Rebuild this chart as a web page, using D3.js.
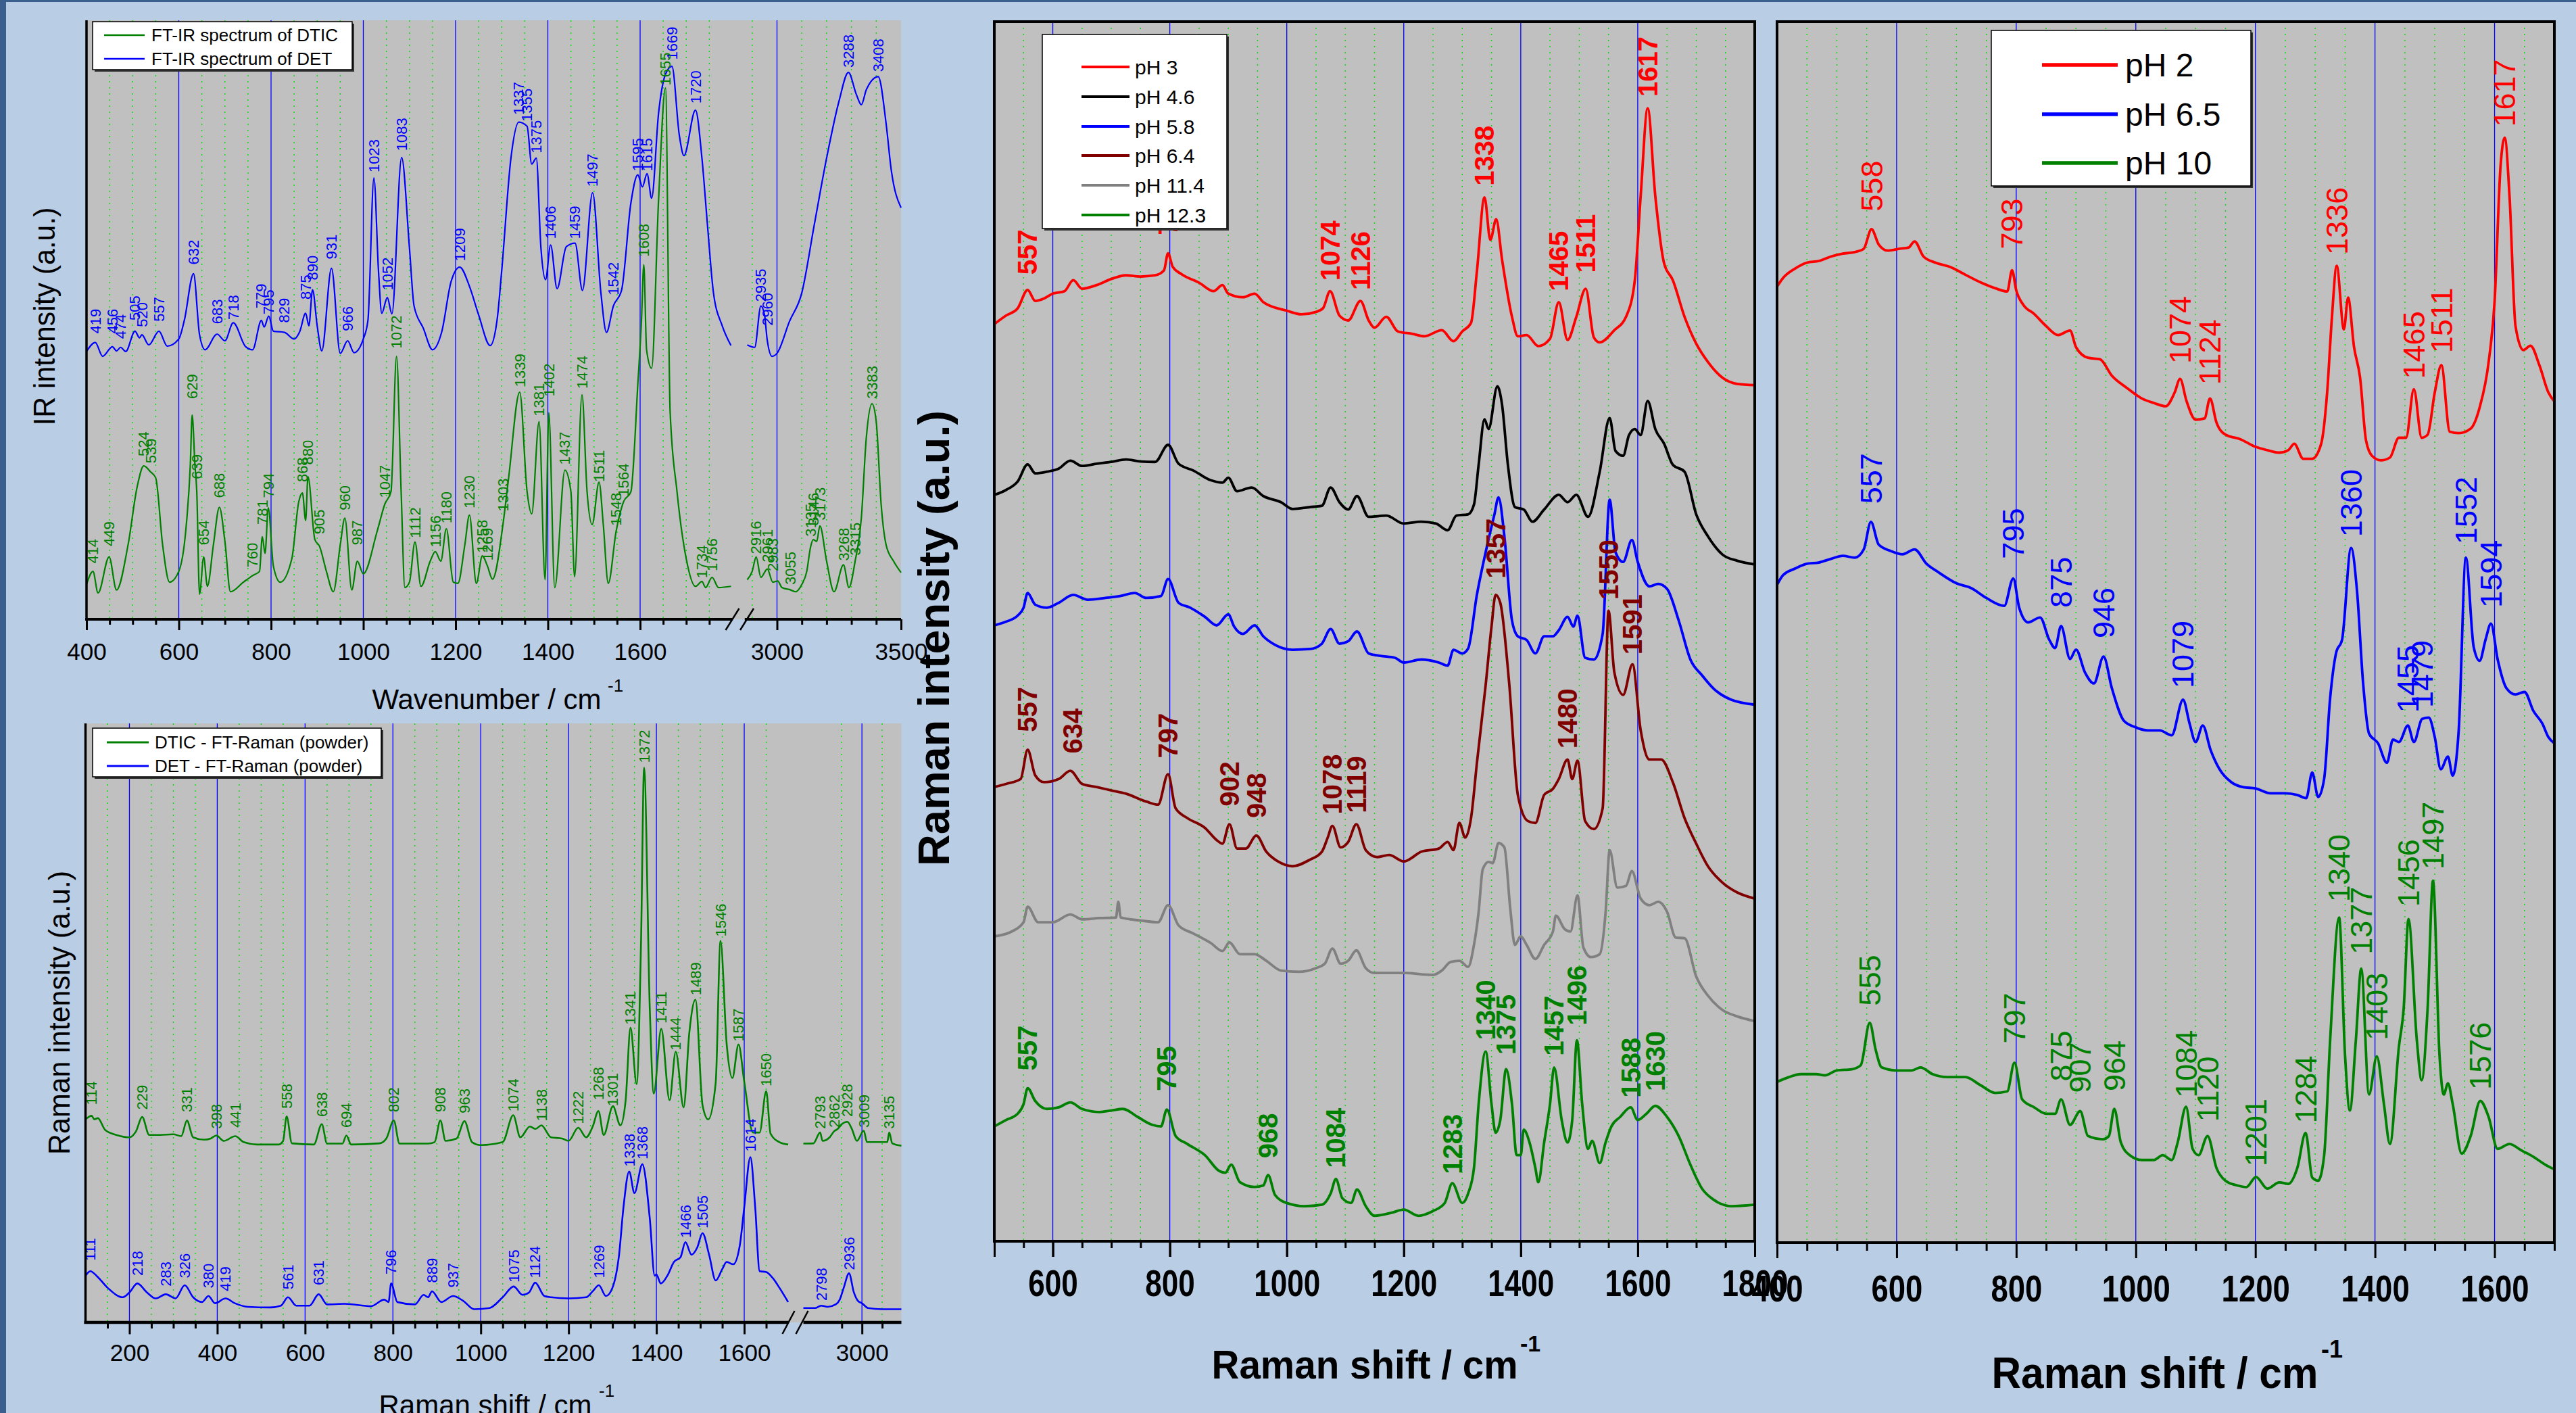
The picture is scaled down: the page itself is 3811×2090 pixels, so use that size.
<!DOCTYPE html>
<html>
<head>
<meta charset="utf-8">
<script src="https://cdn.jsdelivr.net/npm/d3@7"></script>
<style>
  body { margin: 0; background: #b9cde5; }
  svg { display: block; }
</style>
</head>
<body>
<script>
// ---------- data (wavenumber, relative intensity 0-100 of each panel) ----------

// FT-IR
const irDet = [[400,44.7],[419,46.2],[435,43.9],[456,45.5],[465,44.8],[474,45.4],[485,44.7],[505,48.1],[515,47],[520,47.5],[535,45.8],[557,48.1],[575,45.6],[600,46.8],[612,49.9],[632,57.7],[645,47.5],[657,45],[683,47.6],[700,46.5],[718,49.5],[745,45.5],[760,45],[779,49.9],[785,48.8],[795,50.6],[805,48.1],[829,47.9],[850,46.8],[862,48],[875,51.1],[882,49],[890,55],[900,49],[910,44.8],[931,58.6],[950,44.4],[966,46.5],[980,44.5],[1000,46.8],[1010,49.9],[1023,73.7],[1033,58],[1040,51.1],[1052,53.7],[1062,51],[1083,77.1],[1100,62],[1110,52.3],[1130,48.6],[1150,45],[1170,48],[1190,56.3],[1209,58.8],[1230,55.6],[1250,50.8],[1275,45.7],[1290,50],[1300,58.2],[1320,77],[1337,83],[1355,82.3],[1365,76],[1375,77],[1385,62],[1395,56.7],[1406,62.5],[1420,55.2],[1440,62.2],[1459,62.8],[1475,54.9],[1497,71.2],[1515,54.5],[1527,47.9],[1542,52.3],[1560,55],[1580,69.5],[1595,74.2],[1605,72.2],[1615,74.4],[1625,70.3],[1640,84.5],[1655,91],[1669,92.3],[1685,80.8],[1695,77.4],[1720,85],[1734,77],[1746,65.8],[1759,54.5],[1778,49],[1797,45.7],
  [2880,45.8],[2910,45.4],[2935,52.3],[2950,50.8],[2960,46.8],[2980,43.9],[3000,44.4],[3050,49.7],[3100,54.5],[3150,65.8],[3200,77],[3250,86.5],[3288,91.3],[3320,87.6],[3340,85.9],[3360,88.4],[3408,90.6],[3440,82.7],[3460,75.2],[3500,68.7]];
const irDtic = [[400,5.8],[414,8],[425,4.4],[449,10.4],[465,4.9],[490,12.4],[510,22.2],[524,25.6],[539,24.6],[550,23.6],[565,12.4],[580,6.2],[600,8],[615,14.7],[625,25.8],[629,34.1],[635,25.8],[639,21.3],[645,4.2],[654,10.4],[662,5.5],[675,12.4],[688,18.7],[700,13],[712,4.6],[740,6.2],[760,7.3],[775,8],[781,13.8],[787,11],[794,18.6],[805,8.9],[820,6.2],[845,10.1],[860,19.6],[868,21.1],[875,16.5],[880,23.8],[895,13.3],[905,12.2],[920,8],[935,4.6],[950,12.4],[960,16.9],[975,4.9],[987,9.7],[1000,7.6],[1030,14.7],[1047,19.3],[1060,21.3],[1072,43.9],[1082,21.3],[1090,5.3],[1100,6.2],[1112,12.9],[1125,5.5],[1145,9.7],[1156,11.3],[1168,9.7],[1180,15.1],[1195,6.2],[1205,6],[1220,12.4],[1230,17.4],[1245,6],[1258,10.6],[1269,8.9],[1280,6.7],[1303,16],[1315,23.6],[1339,37.9],[1355,21.3],[1365,17.6],[1381,33],[1394,6.6],[1402,34.5],[1415,5.3],[1437,24.9],[1450,21.3],[1458,7.1],[1474,37.5],[1485,21.3],[1496,15.8],[1511,22.9],[1520,16],[1531,6],[1548,14.7],[1564,19.6],[1580,21.3],[1595,39.2],[1603,50],[1608,59.2],[1614,45],[1625,41.9],[1640,70],[1655,88.7],[1665,34.8],[1680,21.3],[1700,10.1],[1720,5.5],[1734,6.3],[1742,5.3],[1756,7],[1770,5.3],[1797,5.5],
  [2880,6.6],[2900,8],[2916,10.4],[2935,7],[2961,8.4],[2983,6.2],[3003,6.4],[3020,5.3],[3055,4.9],[3075,4.6],[3100,5.8],[3120,8],[3135,12],[3146,13.3],[3160,13],[3173,15.6],[3200,9.7],[3230,4.6],[3268,9.1],[3290,5.3],[3315,9.7],[3340,16.9],[3360,30.3],[3383,36],[3400,33],[3420,19.1],[3440,12.4],[3470,9.7],[3500,7.8]];
const irDetPeaks = [[419,47.7],[456,47.7],[474,46.8],[505,49.9],[520,48.8],[557,49.7],[632,59.2],[683,49.3],[718,50],[779,51.9],[795,50.9],[829,49.5],[875,53.4],[890,56.6],[931,60.1],[966,48.1],[1023,74.6],[1052,54.9],[1083,78.2],[1209,59.8],[1337,84.2],[1355,83.1],[1375,77.8],[1406,63.5],[1459,63.5],[1497,72.2],[1542,54.1],[1595,74.8],[1615,74.8],[1669,93.4],[1720,86.1],[2935,53],[2960,49],[3288,92.1],[3408,91.4]];
const irDticPeaks = [[414,9.3],[449,12.2],[524,27.2],[539,26.05],[629,36.8],[639,23.4],[654,12.4],[688,20.25],[760,8.65],[781,15.8],[794,20.25],[868,22.9],[880,25.8],[905,14.2],[960,18.2],[987,12.4],[1047,20.25],[1072,45.2],[1112,13.55],[1156,12],[1180,16],[1230,18.5],[1258,11.1],[1269,9.75],[1303,18],[1339,38.8],[1381,33.9],[1402,37.2],[1437,25.8],[1474,38.5],[1511,22.9],[1548,15.6],[1564,20.5],[1608,60.5],[1655,89.1],[1734,6.86],[1756,8],[2916,10.9],[2961,9.5],[2983,8],[3055,5.75],[3135,13.8],[3146,15.6],[3173,16.5],[3268,9.75],[3315,10.65],[3383,36.8]];

// FT-Raman (powder)
const ramanDtic = [[100,33.9],[114,34.5],[120,33.9],[128,34.1],[145,32.1],[170,31.3],[200,30.9],[215,31.9],[229,34.3],[245,31.3],[270,31.3],[300,31.4],[318,31.1],[331,33.7],[345,30.9],[370,30.5],[385,30.7],[398,31.2],[415,30.3],[441,31.1],[460,30.1],[490,29.7],[540,29.7],[550,30.3],[558,34.4],[570,29.9],[620,29.7],[638,33.1],[650,29.85],[685,29.85],[694,31.2],[705,29.7],[770,29.9],[785,30.7],[802,33.7],[815,29.85],[880,29.85],[895,30.1],[908,33.7],[920,30.3],[945,30.7],[963,33.6],[980,30.1],[1000,29.6],[1050,30.1],[1074,34.6],[1090,30.9],[1112,32.7],[1125,32.3],[1138,32.9],[1160,30.9],[1185,30.7],[1200,30.3],[1222,32.5],[1240,30.9],[1255,32.7],[1268,35.3],[1280,31.3],[1301,36.1],[1318,32.9],[1330,37.1],[1341,49.2],[1355,39.8],[1365,63.5],[1372,92.6],[1385,52.2],[1394,38.2],[1411,49],[1430,37.1],[1444,45.2],[1462,35.9],[1475,48.4],[1489,53.9],[1505,36.3],[1518,33.9],[1535,40],[1546,63.7],[1560,46.5],[1573,40.8],[1587,46.4],[1600,40.2],[1620,31.7],[1635,31.7],[1650,38.6],[1660,31.5],[1680,30.1],[1700,29.7],
  [2710,29.85],[2760,29.9],[2793,31.7],[2805,30.3],[2840,30.9],[2862,31.9],[2880,32.3],[2900,33.1],[2928,33.5],[2950,32.3],[2975,30.3],[3009,32],[3025,30.1],[3100,30.1],[3125,30.1],[3135,31.7],[3150,29.9],[3195,29.5]];
const ramanDet = [[100,7.8],[111,8.55],[125,7.8],[150,5.8],[185,4.2],[200,5],[218,6.5],[240,5],[260,4],[283,4.7],[305,4],[326,6.2],[345,4.2],[365,3.4],[380,4.4],[395,3.2],[419,4],[440,3.2],[470,2.6],[520,2.5],[545,2.8],[561,4.2],[580,2.8],[610,2.8],[631,4.7],[650,3],[690,3.1],[750,2.7],[780,3.8],[790,3.4],[796,6.5],[810,3.4],[850,3],[870,4.6],[880,4.2],[889,5.2],[910,3.4],[937,4.4],[960,3.6],[985,2.2],[1020,2.4],[1050,4.2],[1075,6],[1095,4.6],[1110,5],[1124,6.65],[1145,4.4],[1160,4.2],[1200,4],[1240,4.2],[1255,5.2],[1269,6.2],[1285,4.4],[1300,5.8],[1315,11.3],[1325,19.2],[1338,25.2],[1350,21.6],[1368,26.4],[1385,17.3],[1396,7.8],[1400,8],[1410,6.5],[1425,7.8],[1440,10.1],[1455,10.9],[1466,13.4],[1480,11.3],[1493,12.5],[1505,14.9],[1520,11.3],[1535,7],[1550,8.9],[1560,10.1],[1575,9.7],[1590,12.9],[1600,19.2],[1614,27.6],[1625,19.2],[1635,8.55],[1650,8.4],[1665,7.4],[1680,5.8],[1700,3.4],
  [2710,2.4],[2770,2.4],[2798,2.8],[2830,2.6],[2870,3],[2890,3.8],[2910,5.8],[2936,8.2],[2960,5],[2980,3.6],[3000,3.2],[3030,2.4],[3100,2.2],[3195,2.2]];
const ramanDetPeaks = [[111,10.3],[218,7.8],[283,6],[326,7.4],[380,5.7],[419,5.2],[561,5.5],[631,6.2],[796,8],[889,6.6],[937,5.8],[1075,6.65],[1124,7.4],[1269,7.4],[1338,26],[1368,27.2],[1466,14.1],[1505,15.7],[1614,28.5],[2798,3.6],[2936,8.75]];
const ramanDticPeaks = [[114,36.3],[229,35.5],[331,35.1],[398,32.3],[441,32.5],[558,35.7],[638,34.3],[694,32.5],[802,35.1],[908,35.1],[963,34.9],[1074,35.2],[1138,33.6],[1222,33.1],[1268,37.1],[1301,36.1],[1341,49.7],[1372,93.4],[1411,49.9],[1444,45.4],[1489,54.6],[1546,64.4],[1587,46.9],[1650,39.4],[2793,32.3],[2862,32.5],[2928,34.3],[3009,32.5],[3135,32.3]];

// Raman, pH series
const ph3 = [[500,75.2],[520,75.9],[540,76.5],[557,78],[570,77.1],[585,77.3],[600,77.7],[620,77.9],[635,78.8],[650,78.1],[675,78.4],[700,78.9],[725,79.2],[750,79.1],[775,79.2],[790,79.6],[797,81],[805,79.9],[820,79.3],[850,78.6],[875,77.9],[890,78.4],[900,77.7],[925,77.4],[945,77.7],[960,77],[1000,76.3],[1025,76],[1050,76.2],[1062,76.5],[1074,77.9],[1090,75.9],[1105,75.5],[1126,77.1],[1140,75.5],[1150,74.9],[1170,75.8],[1190,74.6],[1215,74.4],[1235,74.2],[1265,74.7],[1285,73.8],[1300,74.6],[1315,75.3],[1325,79.5],[1338,85.6],[1348,82.1],[1358,83.8],[1368,80.5],[1385,75.8],[1395,74.2],[1410,74.3],[1430,73.4],[1450,74],[1465,77],[1480,73.9],[1495,75.8],[1511,78.1],[1525,74.1],[1535,73.7],[1560,74.7],[1580,75.8],[1595,78.8],[1605,85.7],[1617,92.9],[1630,85.7],[1645,80.2],[1660,78.8],[1680,75.8],[1700,73.6],[1720,72.1],[1745,70.8],[1770,70.3],[1800,70.2]];
const ph46 = [[500,61.2],[520,61.6],[540,62.3],[557,63.7],[570,62.96],[590,63.1],[610,63.35],[630,64],[650,63.57],[675,63.75],[700,63.9],[725,64.1],[750,63.94],[775,63.9],[797,65.3],[815,63.75],[840,63.2],[870,62.4],[890,62.2],[900,62.6],[915,61.5],[940,61.8],[960,61.1],[990,60.6],[1010,60.04],[1040,60.2],[1060,60.3],[1075,61.8],[1090,60.6],[1105,60],[1120,61.1],[1140,59.4],[1170,59.5],[1200,58.85],[1230,59],[1255,58.85],[1275,58.3],[1290,59.5],[1310,59.6],[1320,60.4],[1328,63.66],[1338,67.4],[1345,66.6],[1360,70.1],[1368,68.6],[1378,63.66],[1390,60.2],[1405,60],[1420,59],[1440,60],[1465,61.2],[1480,60.6],[1495,61.2],[1515,59.4],[1535,63.1],[1552,67.5],[1562,64.8],[1575,64.4],[1585,66.1],[1595,66.6],[1605,66.1],[1617,68.9],[1630,66.6],[1645,65.4],[1660,63.66],[1680,63.1],[1700,59.6],[1720,57.8],[1745,56.3],[1770,55.8],[1800,55.5]];
const ph58 = [[500,50.5],[520,50.8],[540,51.3],[550,51.95],[557,53.15],[570,52.2],[590,51.95],[610,52.35],[635,53],[660,52.6],[690,52.75],[715,52.9],[740,53.15],[760,52.75],[785,52.9],[797,54.3],[815,52.35],[835,51.95],[860,51.2],[880,50.5],[900,51.4],[910,50.4],[925,49.8],[945,50.5],[960,49.6],[980,48.9],[1010,48.5],[1040,48.56],[1060,49],[1075,50.2],[1090,49],[1105,49.2],[1120,50],[1140,48.2],[1160,48],[1185,47.84],[1200,47.45],[1230,47.7],[1260,47.45],[1275,47.2],[1285,48.5],[1300,48.2],[1310,48.6],[1325,53],[1340,56.5],[1355,59.6],[1362,61],[1372,57.8],[1385,50.9],[1395,49.6],[1410,49.3],[1425,48.2],[1440,49.6],[1455,49.6],[1465,50.1],[1480,51.2],[1490,50.4],[1497,51.3],[1510,47.84],[1525,47.7],[1540,49.8],[1552,60.8],[1562,56.5],[1575,55.7],[1590,57.5],[1600,55.7],[1620,53.7],[1635,53.9],[1650,53.5],[1670,50.9],[1690,47.7],[1710,46.4],[1730,45.3],[1760,44.4],[1800,44]];
const ph64 = [[500,37.24],[520,37.5],[545,37.9],[557,40.3],[570,38.2],[585,37.64],[610,37.9],[630,38.57],[650,37.5],[675,37.24],[700,36.97],[725,36.7],[760,36.05],[780,35.8],[797,38.3],[810,35.5],[830,34.7],[860,33.9],[880,32.9],[890,32.6],[902,34.2],[915,32.2],[930,32.2],[948,33.27],[965,31.94],[985,31.14],[1010,30.75],[1040,31.3],[1060,31.94],[1070,33.1],[1078,34.06],[1092,32.3],[1105,32.74],[1119,34.2],[1135,32.07],[1155,31.5],[1175,31.67],[1200,31.14],[1230,31.94],[1260,32.2],[1275,32.74],[1285,32.07],[1295,34.3],[1305,33.1],[1315,34.7],[1325,39.2],[1340,45.6],[1350,50.4],[1357,53],[1365,52.35],[1380,45.86],[1395,36.6],[1412,34.46],[1425,34.3],[1440,36.6],[1455,37.1],[1465,37.9],[1480,39.5],[1488,37.9],[1497,39.4],[1510,34.46],[1525,33.8],[1540,35.5],[1550,51.7],[1560,46.65],[1575,44.8],[1591,47.3],[1605,41.9],[1620,39.5],[1640,39.5],[1660,37.64],[1680,34.7],[1700,32.6],[1720,30.75],[1745,29.4],[1770,28.6],[1800,28.1]];
const ph114 = [[500,25],[530,25.4],[550,26.16],[557,27.43],[575,26.16],[600,26.16],[630,26.8],[650,26.4],[680,26.5],[708,26.55],[712,27.83],[716,26.55],[750,26.3],[780,26.16],[797,27.56],[815,25.9],[840,25.24],[870,24.46],[890,23.8],[902,24.5],[920,23.54],[945,23.54],[965,23],[990,22.2],[1020,22.1],[1050,22.4],[1065,22.76],[1078,24],[1092,22.76],[1105,23],[1119,23.85],[1135,22.4],[1150,22],[1200,22],[1250,21.84],[1265,22.2],[1280,22.9],[1295,23],[1310,22.5],[1320,24.3],[1328,27],[1335,30.5],[1345,31.1],[1352,31],[1362,32.65],[1372,32.3],[1382,27.3],[1390,24.3],[1400,25],[1410,24.3],[1425,23.15],[1440,24.3],[1455,25.4],[1460,26.7],[1475,25.6],[1485,25.4],[1497,28.36],[1507,24.1],[1520,23.3],[1535,23.54],[1545,26.94],[1552,32.07],[1565,29],[1580,29.15],[1590,30.35],[1605,28.1],[1620,27.56],[1635,27.83],[1650,27.03],[1665,24.9],[1680,24.85],[1700,21.7],[1720,20.14],[1745,18.96],[1770,18.44],[1800,18.05]];
const ph123 = [[500,9.42],[520,9.94],[540,10.46],[550,11.25],[557,12.55],[570,11.5],[590,10.85],[610,10.98],[630,11.38],[650,10.85],[680,10.6],[700,10.72],[720,10.85],[745,10.2],[770,9.55],[785,9.42],[795,10.8],[810,8.63],[830,7.98],[860,7.06],[885,5.75],[895,5.62],[905,6.28],[920,4.84],[945,4.45],[960,4.58],[968,5.44],[980,3.79],[1000,3.14],[1030,2.88],[1060,3],[1075,3.92],[1084,5.1],[1095,3.53],[1110,3.14],[1120,4.24],[1135,2.88],[1150,2.09],[1180,2.35],[1200,2.6],[1225,2.09],[1250,2.48],[1270,3.14],[1283,4.76],[1300,3.14],[1310,3.92],[1320,6],[1328,11.25],[1340,15.56],[1350,11.25],[1357,8.9],[1365,9.94],[1375,14.12],[1385,11.25],[1393,7.06],[1400,7.06],[1405,9.15],[1415,8.1],[1425,6],[1430,4.84],[1440,8.1],[1450,11.25],[1457,14.25],[1470,9.94],[1480,8.1],[1488,9.94],[1496,16.48],[1505,11.25],[1515,7.58],[1522,8.24],[1535,6.41],[1545,8.1],[1555,9.42],[1570,10.2],[1588,10.98],[1600,9.94],[1615,10.46],[1630,11.1],[1650,10.2],[1670,8.63],[1690,6.28],[1710,4.31],[1730,3.4],[1760,2.88],[1800,3]];
const ph3Peaks = [[557,79.25],[797,82.5],[1074,78.76],[1126,78],[1338,86.55],[1465,77.9],[1511,79.4],[1617,93.85]];
const ph64Peaks = [[557,41.75],[634,40],[797,39.6],[902,35.65],[948,34.7],[1078,35],[1119,35.1],[1357,54.34],[1480,40.4],[1550,52.6],[1591,48.1]];
const ph123Peaks = [[557,14],[795,12.3],[968,6.8],[1084,6],[1283,5.5],[1340,16.5],[1375,15.3],[1457,15.2],[1496,17.7],[1588,11.77],[1630,12.3]];

// Raman, pH 2 / 6.5 / 10
const ph2 = [[400,78.3],[410,79],[430,79.77],[450,80.26],[470,80.4],[490,80.76],[510,81],[530,81.13],[545,81.4],[558,83],[570,81.75],[585,81.25],[605,81.4],[620,81.5],[630,82],[645,80.76],[665,80.26],[690,79.9],[715,79.27],[740,78.65],[765,78.16],[785,77.9],[793,79.64],[800,78],[812,76.8],[830,76.06],[850,75.07],[870,74.33],[890,74.7],[900,73.34],[920,72.47],[940,72.35],[960,71],[985,70],[1010,69.14],[1030,68.77],[1050,68.5],[1065,69.63],[1074,70.74],[1085,68.9],[1100,67.4],[1115,67.5],[1124,69.14],[1135,67.16],[1150,66.17],[1175,65.8],[1200,65.18],[1220,64.9],[1240,64.7],[1255,64.9],[1265,65.43],[1280,64.2],[1295,64.2],[1310,65.43],[1320,69.63],[1328,75.8],[1336,80],[1348,74.8],[1355,77.4],[1365,73.34],[1375,70.87],[1385,65.7],[1395,64.44],[1410,64.07],[1425,64.3],[1440,65.92],[1452,65.92],[1465,69.9],[1478,65.92],[1488,66.17],[1500,69.63],[1511,71.86],[1525,66.42],[1540,66.3],[1560,66.67],[1575,68.4],[1590,72.1],[1600,77.05],[1610,88.17],[1617,90.5],[1625,85.7],[1635,75.07],[1648,73.1],[1660,73.46],[1675,71.86],[1690,69.63],[1700,68.9]];
const ph65 = [[400,53.87],[410,54.66],[430,55.2],[450,55.6],[470,55.7],[490,56],[510,56.25],[530,56.1],[545,56.78],[557,59.03],[570,57.17],[590,56.65],[610,56.38],[630,56.78],[650,55.6],[670,54.9],[700,54],[725,53.6],[750,52.8],[780,52.15],[795,54.4],[805,52],[820,50.8],[840,51.2],[855,49.4],[865,48.7],[875,50.5],[890,47.8],[900,48.57],[915,46.7],[930,45.8],[946,48],[960,45.4],[980,42.75],[1000,42.2],[1020,41.95],[1040,41.95],[1060,41.55],[1079,44.47],[1090,42.5],[1100,41],[1112,42.35],[1125,40.36],[1140,38.77],[1160,37.7],[1180,37.3],[1200,37.2],[1225,36.8],[1250,36.8],[1270,36.66],[1285,36.4],[1295,38.5],[1305,36.5],[1315,38],[1325,44.6],[1335,48.3],[1345,49.4],[1360,56.9],[1370,53.34],[1380,45.9],[1390,41.7],[1405,40.9],[1420,39.3],[1430,41.2],[1440,41],[1455,42.35],[1465,41],[1479,42.9],[1490,43],[1500,41.4],[1510,38.77],[1522,39.8],[1530,38.25],[1540,41.95],[1552,56.1],[1565,48.8],[1575,47.65],[1585,49.4],[1594,50.7],[1605,47.8],[1620,45.4],[1635,44.9],[1650,45.1],[1665,43.54],[1680,42.5],[1690,41.4],[1700,40.9]];
const ph10 = [[400,13.17],[420,13.56],[440,13.8],[465,13.8],[480,13.7],[500,14.1],[525,14.2],[540,14.53],[555,18],[565,15.78],[575,14.35],[600,14.1],[625,14.1],[640,14.35],[660,13.8],[685,13.56],[715,13.56],[740,12.9],[765,12.26],[785,12.39],[797,14.74],[810,11.73],[830,11.08],[850,10.56],[865,10.56],[875,11.73],[890,9.64],[907,10.77],[920,8.73],[945,8.47],[955,8.73],[964,10.95],[975,8.2],[990,7.16],[1010,6.77],[1030,6.77],[1045,7.16],[1060,6.77],[1070,8.2],[1084,11.13],[1095,7.68],[1105,7.16],[1120,8.73],[1135,6.1],[1150,5.07],[1170,4.68],[1185,4.55],[1201,5.38],[1220,4.42],[1240,4.94],[1255,4.81],[1270,6.1],[1284,8.99],[1295,5.33],[1305,5.07],[1315,7.16],[1325,16.57],[1340,26.63],[1350,15.26],[1358,10.82],[1368,16.57],[1377,22.45],[1390,12.13],[1403,15.26],[1415,11.34],[1425,8.08],[1440,16.05],[1448,19.18],[1456,26.5],[1470,16.57],[1478,13.3],[1488,19.18],[1497,29.64],[1508,15.26],[1515,12.13],[1522,13.04],[1530,11.34],[1545,7.29],[1560,8.73],[1576,11.6],[1590,10.3],[1605,7.68],[1625,8.08],[1645,7.55],[1665,7.03],[1685,6.38],[1700,6]];
const ph2Peaks = [[558,84.46],[793,81.37],[1074,71.98],[1124,70.25],[1336,80.9],[1465,70.74],[1511,72.85],[1617,91.39]];
const ph65Peaks = [[557,60.5],[795,56],[875,52],[946,49.5],[1079,45.4],[1360,57.8],[1455,43.4],[1479,43.8],[1552,57.2],[1594,52]];
const ph10Peaks = [[555,19.4],[797,16.3],[875,13.2],[907,12.26],[964,12.4],[1084,11.86],[1120,9.9],[1201,6.25],[1284,9.77],[1340,27.9],[1377,23.6],[1403,16.57],[1456,27.5],[1497,30.57],[1576,12.52]];

// legends and tick labels
const irNames = ["FT-IR spectrum of DTIC", "FT-IR spectrum of DET"];
const ramanNames = ["DTIC - FT-Raman (powder)", "DET  - FT-Raman (powder)"];
const phNames = ["pH 3", "pH 4.6", "pH 5.8", "pH 6.4", "pH 11.4", "pH 12.3"];
const phColors = ["#ff0000", "#000000", "#0000ff", "#800000", "#808080", "#008000"];
const ph2Names = ["pH 2", "pH 6.5", "pH 10"];
const ph2Colors = ["#ff0000", "#0000ff", "#008000"];
const irMajorA = [400, 600, 800, 1000, 1200, 1400, 1600];
const irMajorB = [3000, 3500];
const ramanMajorA = [200, 400, 600, 800, 1000, 1200, 1400, 1600];
const ramanMajorB = [3000];
const phMajor = [600, 800, 1000, 1200, 1400, 1600, 1800];
const ph2Major = [400, 600, 800, 1000, 1200, 1400, 1600];

// ---------- page ----------
const width = 3811, height = 2090;
const font = "'Liberation Sans', Arial, sans-serif";
const svg = d3.select("body").append("svg")
  .attr("width", width).attr("height", height)
  .style("font-family", font);

svg.append("rect").attr("width", width).attr("height", height).attr("fill", "#b9cde5");
svg.append("rect").attr("width", 9).attr("height", height).attr("fill", "#3a5f8f");
svg.append("rect").attr("width", width).attr("height", 3).attr("fill", "#3a5f8f");

const blue = "#0000ff", green = "#008000", dotGreen = "#00e000";

function gridLines(g, x, values, top, bottom, isBlue) {
  g.selectAll(null).data(values).join("line")
    .attr("x1", d => x(d)).attr("x2", d => x(d))
    .attr("y1", top).attr("y2", bottom)
    .attr("stroke", isBlue ? blue : dotGreen)
    .attr("stroke-width", isBlue ? 1.3 : 1.4)
    .attr("stroke-dasharray", isBlue ? null : "2,7");
}

function trace(g, data, x, y, color, w) {
  g.append("path").datum(data)
    .attr("fill", "none")
    .attr("stroke", color)
    .attr("stroke-width", w)
    .attr("stroke-linejoin", "round")
    .attr("d", d3.line().x(d => x(d[0])).y(d => y(d[1])).curve(d3.curveMonotoneX));
}

function peakLabels(g, peaks, xf, y, color, size, weight) {
  g.selectAll(null).data(peaks).join("text")
    .attr("transform", d => `translate(${xf(d[0])},${y(d[1])}) rotate(-90)`)
    .attr("dy", "0.35em")
    .attr("fill", color)
    .style("font-size", size + "px")
    .style("font-weight", weight)
    .text(d => d[0]);
}

// digitW: squeeze tick labels to a narrow face when set
function axisPart(g, x, y0, values, size, withLabels, fontSize, pad, weight, digitW) {
  const axis = d3.axisBottom(x)
    .tickValues(values)
    .tickSize(size)
    .tickSizeOuter(0)
    .tickPadding(pad)
    .tickFormat(withLabels ? d3.format("d") : "");
  const a = g.append("g")
    .attr("transform", `translate(0,${y0})`)
    .attr("font-family", null)
    .call(axis);
  a.select(".domain").remove();
  a.selectAll(".tick line").attr("stroke", "#000").attr("stroke-width", 3);
  const t = a.selectAll(".tick text")
    .attr("fill", "#000")
    .style("font-size", fontSize + "px")
    .style("font-weight", weight || "normal");
  if (digitW && withLabels) {
    t.attr("textLength", d => String(d).length * digitW).attr("lengthAdjust", "spacingAndGlyphs");
  }
}

function legendBox(g, x0, y0, w, h, names, colors, lineX1, lineX2, textX, rowY, fontSize, lw) {
  g.append("rect").attr("x", x0 + 3).attr("y", y0 + 3).attr("width", w).attr("height", h).attr("fill", "#333");
  g.append("rect").attr("x", x0).attr("y", y0).attr("width", w).attr("height", h)
    .attr("fill", "#fff").attr("stroke", "#000").attr("stroke-width", 1.5);
  names.forEach((n, i) => {
    g.append("line").attr("x1", lineX1).attr("x2", lineX2)
      .attr("y1", rowY[i]).attr("y2", rowY[i])
      .attr("stroke", colors[i]).attr("stroke-width", lw);
    g.append("text").attr("x", textX).attr("y", rowY[i]).attr("dy", "0.35em")
      .style("font-size", fontSize + "px").text(n);
  });
}

function breakMarks(g, xs, y0, hw, hh) {
  xs.forEach(cx => {
    g.append("line").attr("x1", cx - hw).attr("y1", y0 + hh).attr("x2", cx + hw).attr("y2", y0 - hh)
      .attr("stroke", "#000").attr("stroke-width", 2.5);
  });
}

const notMajor = d => d % 200 !== 0;

// ---------- panel 1: FT-IR ----------
{
  const g = svg.append("g");
  const xA = d3.scaleLinear().domain([400, 1800]).range([128, 1083.5]);
  const xB = d3.scaleLinear().domain([2870, 3500]).range([1101.8, 1333]);
  const y = d3.scaleLinear().domain([0, 100]).range([916, 30]);
  const xf = d => d < 2000 ? xA(d) : xB(d);

  g.append("rect").attr("x", 128).attr("y", 30).attr("width", 1205).attr("height", 886).attr("fill", "#c0c0c0");
  gridLines(g, xA, d3.range(450, 1751, 50).filter(notMajor), 30, 916, false);
  gridLines(g, xB, [2900, 3100, 3200, 3300, 3400], 30, 916, false);
  gridLines(g, xA, irMajorA.slice(1), 30, 916, true);
  gridLines(g, xB, [3000], 30, 916, true);

  [irDtic, irDet].forEach((s, i) => {
    const c = i === 0 ? green : blue;
    trace(g, s.filter(d => d[0] < 2000), xA, y, c, 2.2);
    trace(g, s.filter(d => d[0] > 2000), xB, y, c, 2.2);
  });
  peakLabels(g, irDetPeaks, xf, y, blue, 22, "normal");
  peakLabels(g, irDticPeaks, xf, y, green, 22, "normal");

  g.append("line").attr("x1", 128).attr("x2", 128).attr("y1", 30).attr("y2", 918).attr("stroke", "#000").attr("stroke-width", 3.5);
  g.append("line").attr("x1", 126).attr("x2", 1083.5).attr("y1", 916).attr("y2", 916).attr("stroke", "#000").attr("stroke-width", 4);
  g.append("line").attr("x1", 1101.8).attr("x2", 1333).attr("y1", 916).attr("y2", 916).attr("stroke", "#000").attr("stroke-width", 4);
  breakMarks(g, [1083.5, 1105], 916, 10, 16);
  axisPart(g, xA, 916, d3.range(450, 1751, 50).filter(notMajor), 8, false, 35, 19);
  axisPart(g, xA, 916, irMajorA, 16, true, 35, 19);
  axisPart(g, xB, 916, [3100, 3200, 3300, 3400], 8, false, 35, 19);
  axisPart(g, xB, 916, irMajorB, 16, true, 35, 19);

  legendBox(g, 137, 32, 384, 71, irNames, [green, blue], 154, 214, 224, [52, 87], 26, 2.5);

  g.append("text").attr("transform", "translate(81,468) rotate(-90)")
    .attr("text-anchor", "middle").style("font-size", "44px")
    .attr("textLength", 323).attr("lengthAdjust", "spacingAndGlyphs")
    .text("IR intensity (a.u.)");
  g.append("text").attr("x", 720).attr("y", 1049).attr("text-anchor", "middle")
    .style("font-size", "42px").text("Wavenumber / cm");
  g.append("text").attr("x", 899).attr("y", 1023).style("font-size", "26px").text("-1");
}

// ---------- panel 2: FT-Raman powder ----------
{
  const g = svg.append("g");
  const xA = d3.scaleLinear().domain([100, 1700]).range([126.5, 1166]);
  const xB = d3.scaleLinear().domain([2710, 3195]).range([1188.5, 1333.5]);
  const y = d3.scaleLinear().domain([0, 100]).range([1956, 1070]);
  const xf = d => d < 2000 ? xA(d) : xB(d);

  g.append("rect").attr("x", 126.5).attr("y", 1070).attr("width", 1207).attr("height", 886).attr("fill", "#c0c0c0");
  gridLines(g, xA, d3.range(150, 1651, 50).filter(notMajor), 1070, 1956, false);
  gridLines(g, xB, [2900, 3100], 1070, 1956, false);
  gridLines(g, xA, ramanMajorA, 1070, 1956, true);
  gridLines(g, xB, ramanMajorB, 1070, 1956, true);

  [ramanDtic, ramanDet].forEach((s, i) => {
    const c = i === 0 ? green : blue;
    trace(g, s.filter(d => d[0] < 2000), xA, y, c, 2.6);
    trace(g, s.filter(d => d[0] > 2000), xB, y, c, 2.6);
  });
  peakLabels(g, ramanDticPeaks, xf, y, green, 22, "normal");
  peakLabels(g, ramanDetPeaks, xf, y, blue, 22, "normal");

  g.append("line").attr("x1", 126.5).attr("x2", 126.5).attr("y1", 1070).attr("y2", 1958).attr("stroke", "#000").attr("stroke-width", 3.5);
  g.append("line").attr("x1", 124.5).attr("x2", 1166).attr("y1", 1956).attr("y2", 1956).attr("stroke", "#000").attr("stroke-width", 4.5);
  g.append("line").attr("x1", 1188.5).attr("x2", 1333.5).attr("y1", 1956).attr("y2", 1956).attr("stroke", "#000").attr("stroke-width", 4.5);
  breakMarks(g, [1166.5, 1186.5], 1956, 9, 17);
  axisPart(g, xA, 1956, d3.range(150, 1651, 50).filter(notMajor), 9, false, 35, 15);
  axisPart(g, xA, 1956, ramanMajorA, 17.5, true, 35, 15);
  axisPart(g, xB, 1956, [2900, 3100], 9, false, 35, 15);
  axisPart(g, xB, 1956, ramanMajorB, 17.5, true, 35, 15);

  legendBox(g, 137, 1077, 427, 72, ramanNames, [green, blue], 158, 220, 229, [1098, 1133], 26, 3);

  g.append("text").attr("transform", "translate(103,1498) rotate(-90)")
    .attr("text-anchor", "middle").style("font-size", "44px")
    .attr("textLength", 420).attr("lengthAdjust", "spacingAndGlyphs")
    .text("Raman intensity (a.u.)");
  g.append("text").attr("x", 718).attr("y", 2093).attr("text-anchor", "middle")
    .style("font-size", "42px").text("Raman shift / cm");
  g.append("text").attr("x", 886).attr("y", 2066).style("font-size", "26px").text("-1");
}

// ---------- panel 3: pH series ----------
{
  const g = svg.append("g");
  const x = d3.scaleLinear().domain([500, 1800]).range([1471, 2596]);
  const y = d3.scaleLinear().domain([0, 100]).range([1836, 32]);

  g.append("rect").attr("x", 1471).attr("y", 32).attr("width", 1125).attr("height", 1804).attr("fill", "#c0c0c0");
  gridLines(g, x, d3.range(550, 1751, 50).filter(notMajor), 32, 1836, false);
  gridLines(g, x, [600, 800, 1000, 1200, 1400, 1600], 32, 1836, true);

  [ph3, ph46, ph58, ph64, ph114, ph123].forEach((s, i) => trace(g, s, x, y, phColors[i], 3.8));
  peakLabels(g, ph3Peaks, x, y, "#ff0000", 40, "bold");
  peakLabels(g, ph64Peaks, x, y, "#800000", 40, "bold");
  peakLabels(g, ph123Peaks, x, y, "#008000", 40, "bold");

  g.append("rect").attr("x", 1471).attr("y", 32).attr("width", 1125).attr("height", 1804)
    .attr("fill", "none").attr("stroke", "#000").attr("stroke-width", 4);
  axisPart(g, x, 1836, d3.range(550, 1751, 50).filter(notMajor), 10, false, 55, 19, "bold");
  axisPart(g, x, 1836, [500].concat(phMajor), 23, false, 55, 19, "bold");
  axisPart(g, x, 1836, phMajor, 23, true, 55, 19, "bold", 24.5);

  legendBox(g, 1542, 51, 273, 287, phNames, phColors, 1600, 1671, 1679, [99, 143, 187, 230, 274, 318], 30, 4);

  g.append("text").attr("transform", "translate(1404,944) rotate(-90)")
    .attr("text-anchor", "middle").style("font-size", "64px").style("font-weight", "bold")
    .attr("textLength", 674).attr("lengthAdjust", "spacingAndGlyphs")
    .text("Raman intensity (a.u.)");
  g.append("text").attr("x", 2019).attr("y", 2039).attr("text-anchor", "middle")
    .style("font-size", "60px").style("font-weight", "bold")
    .attr("textLength", 453).attr("lengthAdjust", "spacingAndGlyphs")
    .text("Raman shift / cm");
  g.append("text").attr("x", 2249).attr("y", 1999).style("font-size", "34px").style("font-weight", "bold").text("-1");
}

// ---------- panel 4: pH 2 / 6.5 / 10 ----------
{
  const g = svg.append("g");
  const x = d3.scaleLinear().domain([400, 1700]).range([2629, 3779]);
  const y = d3.scaleLinear().domain([0, 100]).range([1838, 32]);

  g.append("rect").attr("x", 2629).attr("y", 32).attr("width", 1150).attr("height", 1806).attr("fill", "#c0c0c0");
  gridLines(g, x, d3.range(450, 1651, 50).filter(notMajor), 32, 1838, false);
  gridLines(g, x, [600, 800, 1000, 1200, 1400, 1600], 32, 1838, true);

  [ph2, ph65, ph10].forEach((s, i) => trace(g, s, x, y, ph2Colors[i], 3.8));
  peakLabels(g, ph2Peaks, x, y, "#ff0000", 45, "normal");
  peakLabels(g, ph65Peaks, x, y, "#0000ff", 45, "normal");
  peakLabels(g, ph10Peaks, x, y, "#008000", 45, "normal");

  g.append("rect").attr("x", 2629).attr("y", 32).attr("width", 1150).attr("height", 1806)
    .attr("fill", "none").attr("stroke", "#000").attr("stroke-width", 4);
  axisPart(g, x, 1838, d3.range(450, 1701, 50).filter(notMajor), 12, false, 55, 25, "bold");
  axisPart(g, x, 1838, ph2Major, 23, true, 55, 25, "bold", 25.3);

  legendBox(g, 2946, 45, 384, 230, ph2Names, ph2Colors, 3021, 3133, 3144, [96, 169, 241], 48, 5.5);

  g.append("text").attr("x", 3188).attr("y", 2053).attr("text-anchor", "middle")
    .style("font-size", "64px").style("font-weight", "bold")
    .attr("textLength", 483).attr("lengthAdjust", "spacingAndGlyphs")
    .text("Raman shift / cm");
  g.append("text").attr("x", 3434).attr("y", 2008).style("font-size", "36px").style("font-weight", "bold").text("-1");
}
</script>
</body>
</html>
